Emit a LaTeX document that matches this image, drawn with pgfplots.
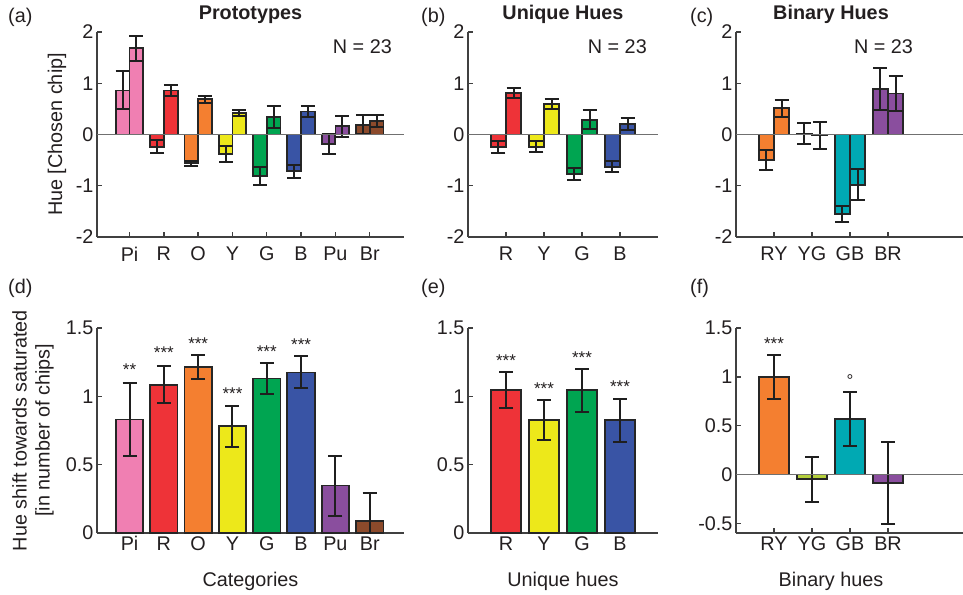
\documentclass[border=0pt]{standalone}
\usepackage{pgfplots}
\pgfplotsset{compat=1.18}
\usepackage{fontspec}
\setmainfont{Liberation Sans}
\newcommand\fs{\fontsize{19.8}{23}\selectfont}
\definecolor{cPi}{HTML}{F07FB2}
\definecolor{cR}{HTML}{EE3338}
\definecolor{cO}{HTML}{F47F30}
\definecolor{cY}{HTML}{EDE81A}
\definecolor{cG}{HTML}{00A551}
\definecolor{cB}{HTML}{3954A5}
\definecolor{cPu}{HTML}{8A4E9E}
\definecolor{cBr}{HTML}{8C4A2B}
\definecolor{cT}{HTML}{00A9B3}
\definecolor{cL}{HTML}{B4CF3C}
\definecolor{edge}{HTML}{262626}
\definecolor{ebar}{HTML}{1F1F1F}
\definecolor{axc}{HTML}{404040}
\definecolor{txt}{HTML}{231F20}
\definecolor{zc}{HTML}{707070}

\pgfplotsset{
  panel/.style={
    scale only axis, clip=true,
    axis x line*=bottom, axis y line*=left,
    axis line style={-, line width=1.4pt, axc},
    tick style={line width=1.4pt, axc},
    tick align=inside, major tick length=5pt,
    tick label style={font=\fs, text=txt},
    label style={font=\fs, text=txt},
    title style={font=\fs\bfseries, text=txt, anchor=base,
      at={(axis description cs:0.5,1.0293)}},
  },
  hb/.style={ybar, fill=#1, draw=edge, line width=1.8pt,
    error bars/y dir=both, error bars/y explicit,
    error bars/error bar style={line width=2pt, ebar},
    error bars/error mark options={rotate=90, line width=2pt, mark size=7pt, ebar}},
  % bars are plotted at their own x, so no bar shift is needed
  pa/.style={hb=#1, bar width=13.7pt, bar shift=0pt},
  pb/.style={hb=#1, bar width=15.2pt, bar shift=0pt},
  sa/.style={hb=#1, bar width=27.4pt, bar shift=0pt},
  sb/.style={hb=#1, bar width=30.4pt, bar shift=0pt},
  zline/.style={line width=1pt, zc},
}
\tikzset{
  nn/.style={font=\fs, text=txt, anchor=base east, inner sep=0pt},
  st/.style={font=\fontsize{17}{20}\selectfont, text=txt, anchor=base, inner sep=0pt, yshift=-9.8pt},
  pl/.style={font=\fs, text=txt, anchor=base west, inner sep=0pt},
}

\begin{document}
\begin{tikzpicture}
\useasboundingbox (0pt,0pt) rectangle (963pt,594pt);

% (a) prototypes
\begin{axis}[panel, at={(97pt,357pt)}, anchor=south west, width=307pt, height=205pt,
  xmin=0.05, xmax=9, ymin=-2, ymax=2,
  xtick={1,...,8}, xticklabels={Pi,R,O,Y,G,B,Pu,Br},
  xticklabel style={yshift=-6.5pt},
  ytick={-2,-1,0,1,2}, yticklabels={-2,-1,0,1,2},
  title={Prototypes}, ylabel={Hue [Chosen chip]},
  ylabel style={at={(axis description cs:-0.130,0.5)}, anchor=center}]
\addplot[pa=cPi] coordinates {(0.8,0.86) +- (0,0.37)};
\addplot[pa=cPi] coordinates {(1.2,1.68) +- (0,0.25)};
\addplot[pa=cR] coordinates {(1.8,-0.24) +- (0,0.13)};
\addplot[pa=cR] coordinates {(2.2,0.86) +- (0,0.10)};
\addplot[pa=cO] coordinates {(2.8,-0.56) +- (0,0.05)};
\addplot[pa=cO] coordinates {(3.2,0.69) +- (0,0.07)};
\addplot[pa=cY] coordinates {(3.8,-0.38) +- (0,0.15)};
\addplot[pa=cY] coordinates {(4.2,0.42) +- (0,0.06)};
\addplot[pa=cG] coordinates {(4.8,-0.81) +- (0,0.175)};
\addplot[pa=cG] coordinates {(5.2,0.34) +- (0,0.22)};
\addplot[pa=cB] coordinates {(5.8,-0.72) +- (0,0.13)};
\addplot[pa=cB] coordinates {(6.2,0.45) +- (0,0.10)};
\addplot[pa=cPu] coordinates {(6.8,-0.19) +- (0,0.20)};
\addplot[pa=cPu] coordinates {(7.2,0.16) +- (0,0.20)};
\addplot[pa=cBr] coordinates {(7.8,0.19) +- (0,0.19)};
\addplot[pa=cBr] coordinates {(8.2,0.27) +- (0,0.12)};
\addplot[zline] coordinates {(0,0) (9,0)};
\node[nn] at (axis cs:8.65,1.584) {N = 23};
\end{axis}

% (b) unique hues
\begin{axis}[panel, at={(468pt,357pt)}, anchor=south west, width=190pt, height=205pt,
  xmin=0, xmax=5, ymin=-2, ymax=2,
  xtick={1,...,4}, xticklabels={R,Y,G,B},
  xticklabel style={yshift=-6.5pt},
  ytick={-2,-1,0,1,2}, yticklabels={-2,-1,0,1,2},
  title={Unique Hues}]
\addplot[pb=cR] coordinates {(0.8,-0.24) +- (0,0.12)};
\addplot[pb=cR] coordinates {(1.2,0.81) +- (0,0.09)};
\addplot[pb=cY] coordinates {(1.8,-0.24) +- (0,0.11)};
\addplot[pb=cY] coordinates {(2.2,0.59) +- (0,0.10)};
\addplot[pb=cG] coordinates {(2.8,-0.77) +- (0,0.12)};
\addplot[pb=cG] coordinates {(3.2,0.29) +- (0,0.19)};
\addplot[pb=cB] coordinates {(3.8,-0.63) +- (0,0.11)};
\addplot[pb=cB] coordinates {(4.2,0.20) +- (0,0.12)};
\addplot[zline] coordinates {(0,0) (5,0)};
\node[nn] at (axis cs:4.71,1.584) {N = 23};
\end{axis}

% (c) binary hues
\begin{axis}[panel, at={(736pt,357pt)}, anchor=south west, width=228pt, height=205pt,
  xmin=0, xmax=6, ymin=-2, ymax=2,
  xtick={1,...,4}, xticklabels={RY,YG,GB,BR},
  xticklabel style={yshift=-6.5pt},
  ytick={-2,-1,0,1,2}, yticklabels={-2,-1,0,1,2},
  title={Binary Hues}, title style={at={(axis description cs:0.4167,1.0293)}}]
\addplot[pb=cO] coordinates {(0.8,-0.50) +- (0,0.20)};
\addplot[pb=cO] coordinates {(1.2,0.51) +- (0,0.16)};
\addplot[pb=cL] coordinates {(1.8,0.02) +- (0,0.21)};
\addplot[pb=cL] coordinates {(2.2,-0.02) +- (0,0.27)};
\addplot[pb=cT] coordinates {(2.8,-1.55) +- (0,0.16)};
\addplot[pb=cT] coordinates {(3.2,-0.98) +- (0,0.30)};
\addplot[pb=cPu] coordinates {(3.8,0.89) +- (0,0.41)};
\addplot[pb=cPu] coordinates {(4.2,0.80) +- (0,0.35)};
\addplot[zline] coordinates {(0,0) (6,0)};
\node[nn] at (axis cs:4.66,1.584) {N = 23};
\end{axis}

% (d) categories
\begin{axis}[panel, at={(97pt,61pt)}, anchor=south west, width=307pt, height=205pt,
  xmin=0.05, xmax=9, ymin=0, ymax=1.5,
  xtick={1,...,8}, xticklabels={Pi,R,O,Y,G,B,Pu,Br},
  ytick={0,0.5,1,1.5}, yticklabels={0,0.5,1,1.5},
  xlabel={Categories},
  xlabel style={at={(axis description cs:0.5,-0.2634)}, anchor=base},
  ylabel={Hue shift towards saturated\\{[}in number of chips]},
  ylabel style={at={(axis description cs:-0.2085,0.5)}, anchor=center, align=center}]
\addplot[sa=cPi] coordinates {(1,0.83) +- (0,0.27)};
\addplot[sa=cR] coordinates {(2,1.085) +- (0,0.135)};
\addplot[sa=cO] coordinates {(3,1.215) +- (0,0.085)};
\addplot[sa=cY] coordinates {(4,0.78) +- (0,0.15)};
\addplot[sa=cG] coordinates {(5,1.13) +- (0,0.113)};
\addplot[sa=cB] coordinates {(6,1.175) +- (0,0.117)};
\addplot[sa=cPu] coordinates {(7,0.347) +- (0,0.22)};
\addplot[sa=cBr] coordinates {(8,0.088) +- (0,0.205)};
\node[st] at (axis cs:1,1.222) {**};
\node[st] at (axis cs:2,1.345) {***};
\node[st] at (axis cs:3,1.412) {***};
\node[st] at (axis cs:4,1.051) {***};
\node[st] at (axis cs:5,1.357) {***};
\node[st] at (axis cs:6,1.407) {***};
\end{axis}

% (e) unique hues
\begin{axis}[panel, at={(468pt,61pt)}, anchor=south west, width=190pt, height=205pt,
  xmin=0, xmax=5, ymin=0, ymax=1.5,
  xtick={1,...,4}, xticklabels={R,Y,G,B},
  ytick={0,0.5,1,1.5}, yticklabels={0,0.5,1,1.5},
  xlabel={Unique hues},
  xlabel style={at={(axis description cs:0.5,-0.2634)}, anchor=base}]
\addplot[sb=cR] coordinates {(1,1.046) +- (0,0.13)};
\addplot[sb=cY] coordinates {(2,0.826) +- (0,0.145)};
\addplot[sb=cG] coordinates {(3,1.046) +- (0,0.157)};
\addplot[sb=cB] coordinates {(4,0.826) +- (0,0.158)};
\node[st] at (axis cs:1,1.29) {***};
\node[st] at (axis cs:2,1.085) {***};
\node[st] at (axis cs:3,1.315) {***};
\node[st] at (axis cs:4,1.10) {***};
\end{axis}

% (f) binary hues
\begin{axis}[panel, at={(736pt,61pt)}, anchor=south west, width=228pt, height=205pt,
  xmin=0, xmax=6, ymin=-0.6, ymax=1.5,
  xtick={1,...,4}, xticklabels={RY,YG,GB,BR},
  ytick={-0.5,0,0.5,1,1.5}, yticklabels={-0.5,0,0.5,1,1.5},
  xlabel={Binary hues},
  xlabel style={at={(axis description cs:0.4167,-0.2634)}, anchor=base}]
\addplot[sb=cO] coordinates {(1,1.0) +- (0,0.223)};
\addplot[sb=cL] coordinates {(2,-0.048) +- (0,0.23)};
\addplot[sb=cT] coordinates {(3,0.568) +- (0,0.274)};
\addplot[sb=cPu] coordinates {(4,-0.089) +- (0,0.42)};
\addplot[zline] coordinates {(0,0) (6,0)};
\node[st] at (axis cs:1,1.377) {***};
\node[st] at (axis cs:3,1.0) {°};
\end{axis}

\node[pl] at (8pt,571.5pt) {(a)};
\node[pl] at (421pt,571.5pt) {(b)};
\node[pl] at (690pt,571.5pt) {(c)};
\node[pl] at (8pt,300pt) {(d)};
\node[pl] at (421pt,300pt) {(e)};
\node[pl] at (690pt,300pt) {(f)};
\end{tikzpicture}
\end{document}
